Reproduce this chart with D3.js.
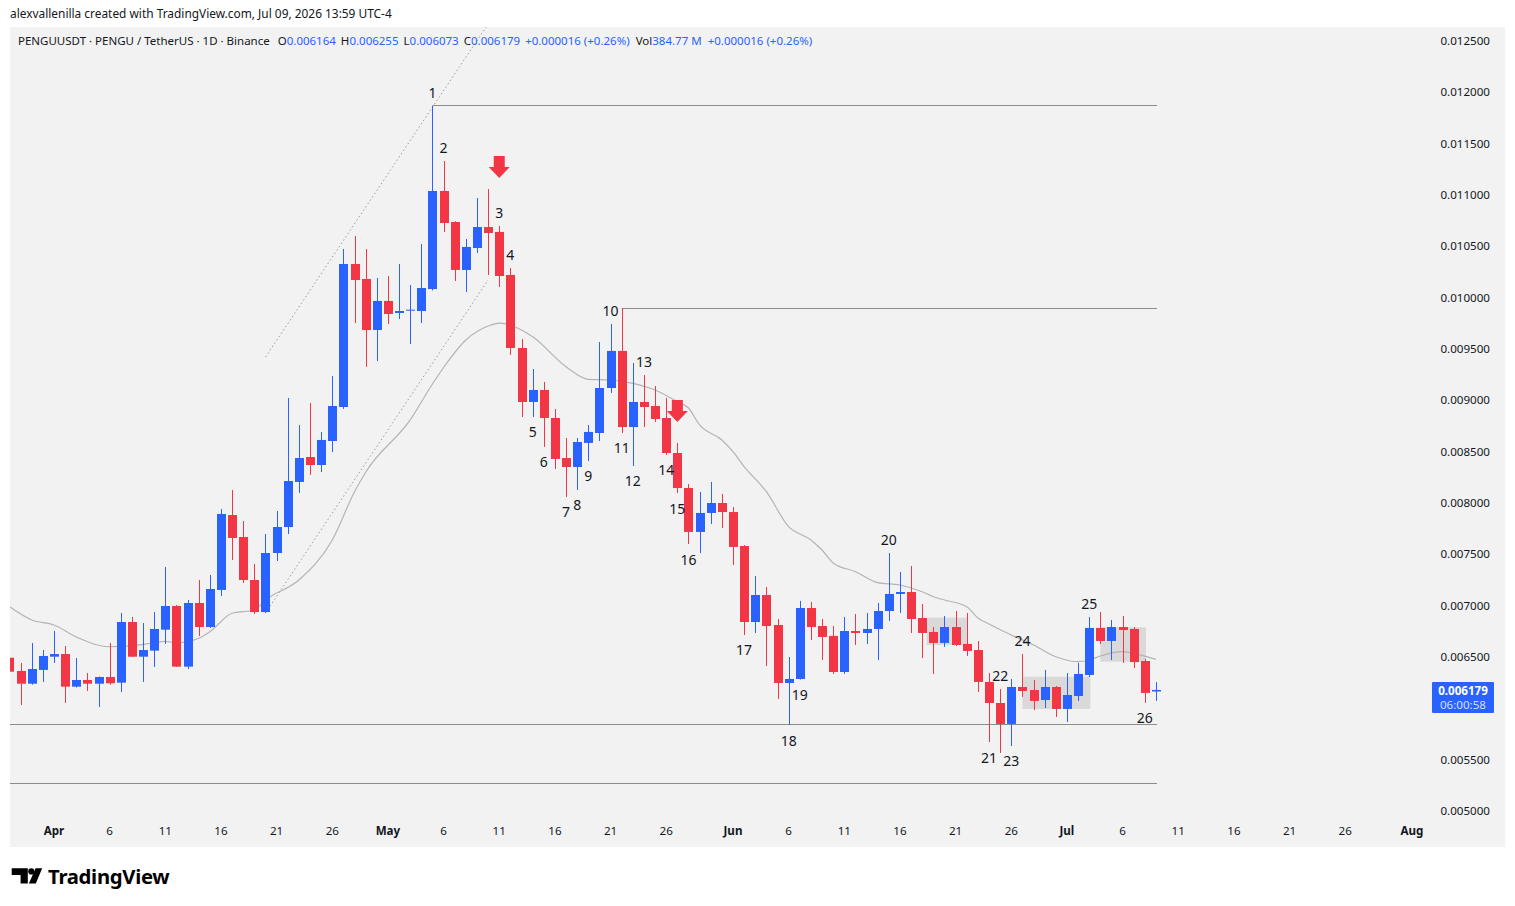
<!DOCTYPE html>
<html lang="en">
  <head>
    <meta charset="UTF-8" />
    <title>PENGUUSDT 1D - TradingView</title>
    <script src="https://d3js.org/d3.v7.min.js"></script>
    <style>
      body { margin: 0; background: #ffffff; }
      svg text { font-family: "Noto Sans", sans-serif; }
    </style>
  </head>
  <body>
    <div id="viz"></div>
    <script>
      // daily candles, first one on Mar 28 2026
      const firstDay = "2026-03-28";
      const opens = [
        0.006493, 0.006364, 0.006240, 0.006374, 0.006503, 0.006529, 0.006211, 0.006276, 0.006240, 0.006305,
        0.006250, 0.006841, 0.006503, 0.006562, 0.006766, 0.006997, 0.006406, 0.007026, 0.006792, 0.007153,
        0.007883, 0.007669, 0.007250, 0.006938, 0.007513, 0.007766, 0.008205, 0.008448, 0.008370, 0.008604,
        0.008935, 0.010328, 0.010182, 0.009685, 0.009968, 0.009851, 0.009873, 0.009870, 0.010084, 0.011039,
        0.010737, 0.010270, 0.010484, 0.010688, 0.010640, 0.010221, 0.009510, 0.008984, 0.009101, 0.008828,
        0.008438, 0.008351, 0.008585, 0.008682, 0.009120, 0.009481, 0.008740, 0.008984, 0.008945, 0.008828,
        0.008487, 0.008146, 0.007718, 0.007903, 0.008000, 0.007912, 0.007581, 0.006841, 0.007104, 0.006812,
        0.006247, 0.006286, 0.006977, 0.006802, 0.006705, 0.006354, 0.006753, 0.006734, 0.006773, 0.006948,
        0.007114, 0.007133, 0.006880, 0.006744, 0.006637, 0.006792, 0.006627, 0.006568, 0.006257, 0.006052,
        0.005848, 0.006208, 0.006179, 0.006081, 0.006208, 0.005994, 0.006120, 0.006325, 0.006783, 0.006656,
        0.006792, 0.006773, 0.006461, 0.006164
      ];
      const highs = [
        0.006656, 0.006442, 0.006637, 0.006568, 0.006753, 0.006607, 0.006490, 0.006344, 0.006310, 0.006637,
        0.006929, 0.006890, 0.006831, 0.006938, 0.007377, 0.007007, 0.007055, 0.007250, 0.007299, 0.007942,
        0.008127, 0.007825, 0.007406, 0.007698, 0.007922, 0.009023, 0.008760, 0.008974, 0.008692, 0.009237,
        0.010474, 0.010601, 0.010474, 0.010192, 0.010211, 0.010328, 0.010123, 0.010523, 0.011867, 0.011331,
        0.010745, 0.010571, 0.010971, 0.011058, 0.010698, 0.010289, 0.009597, 0.009305, 0.009179, 0.008916,
        0.008633, 0.008633, 0.008760, 0.009568, 0.009744, 0.009899, 0.009364, 0.009247, 0.009140, 0.009023,
        0.008585, 0.008185, 0.008107, 0.008205, 0.008088, 0.007961, 0.007590, 0.007289, 0.007182, 0.006870,
        0.006500, 0.007046, 0.007036, 0.006870, 0.006802, 0.006890, 0.006919, 0.006929, 0.007026, 0.007513,
        0.007328, 0.007386, 0.007016, 0.006792, 0.006899, 0.006948, 0.006929, 0.006656, 0.006344, 0.006188,
        0.006286, 0.006529, 0.006276, 0.006374, 0.006218, 0.006344, 0.006442, 0.006890, 0.006938, 0.006861,
        0.006899, 0.006792, 0.006481, 0.006255
      ];
      const lows = [
        0.006325, 0.006033, 0.006231, 0.006257, 0.006442, 0.006052, 0.006203, 0.006169, 0.006013, 0.006231,
        0.006159, 0.006500, 0.006257, 0.006403, 0.006627, 0.006403, 0.006383, 0.006705, 0.006782, 0.007094,
        0.007445, 0.007221, 0.006919, 0.006929, 0.007435, 0.007698, 0.008098, 0.008273, 0.008302, 0.008497,
        0.008916, 0.009753, 0.009325, 0.009383, 0.009744, 0.009792, 0.009549, 0.009753, 0.010070, 0.010640,
        0.010162, 0.010055, 0.010435, 0.010221, 0.010104, 0.009442, 0.008838, 0.008838, 0.008546, 0.008331,
        0.008059, 0.008127, 0.008409, 0.008604, 0.009072, 0.008682, 0.008360, 0.008740, 0.008789, 0.008468,
        0.008098, 0.007601, 0.007513, 0.007796, 0.007757, 0.007396, 0.006714, 0.006734, 0.006412, 0.006091,
        0.005840, 0.006280, 0.006666, 0.006471, 0.006335, 0.006335, 0.006617, 0.006627, 0.006471, 0.006851,
        0.006929, 0.006734, 0.006490, 0.006335, 0.006598, 0.006607, 0.006510, 0.006159, 0.005672, 0.005565,
        0.005633, 0.006111, 0.005984, 0.006003, 0.005916, 0.005867, 0.006072, 0.006305, 0.006627, 0.006471,
        0.006442, 0.006393, 0.006052, 0.006073
      ];
      const closes = [
        0.006357, 0.006240, 0.006383, 0.006510, 0.006529, 0.006211, 0.006276, 0.006240, 0.006305, 0.006244,
        0.006841, 0.006503, 0.006568, 0.006773, 0.006997, 0.006406, 0.007026, 0.006792, 0.007162, 0.007893,
        0.007659, 0.007250, 0.006938, 0.007513, 0.007766, 0.008214, 0.008438, 0.008370, 0.008614, 0.008945,
        0.010328, 0.010172, 0.009685, 0.009968, 0.009841, 0.009870, 0.009883, 0.010094, 0.011039, 0.010727,
        0.010270, 0.010494, 0.010688, 0.010630, 0.010211, 0.009510, 0.008984, 0.009101, 0.008828, 0.008429,
        0.008351, 0.008594, 0.008692, 0.009120, 0.009481, 0.008740, 0.008984, 0.008935, 0.008818, 0.008487,
        0.008146, 0.007718, 0.007903, 0.008000, 0.007912, 0.007572, 0.006841, 0.007104, 0.006802, 0.006247,
        0.006286, 0.006977, 0.006792, 0.006695, 0.006354, 0.006753, 0.006734, 0.006773, 0.006948, 0.007114,
        0.007133, 0.006870, 0.006734, 0.006637, 0.006792, 0.006617, 0.006559, 0.006257, 0.006052, 0.005848,
        0.006208, 0.006169, 0.006072, 0.006208, 0.005994, 0.006130, 0.006335, 0.006783, 0.006656, 0.006792,
        0.006763, 0.006451, 0.006150, 0.006179
      ];

      // moving average line (day index, value)
      const maDays = [0, 2, 4, 6, 9, 11, 13, 14, 15, 17, 18, 20, 22, 23, 26, 29, 31, 32, 36, 38, 39, 41, 43, 44,
        47, 50, 52, 54, 56, 58, 60, 61, 62, 64, 65, 66, 68, 70, 72, 73, 74, 76, 78, 80, 82, 83, 84, 86, 87, 88,
        90, 92, 94, 96, 97, 98, 100, 101, 103];
      const maValues = [0.006990, 0.006861, 0.006812, 0.006695, 0.006600, 0.006610, 0.006639, 0.006653, 0.006639,
        0.006682, 0.006746, 0.006926, 0.006958, 0.007055, 0.007250, 0.007640, 0.008110, 0.008300, 0.008809,
        0.009159, 0.009320, 0.009588, 0.009724, 0.009753, 0.009620, 0.009328, 0.009205, 0.009198, 0.009166,
        0.009101, 0.008987, 0.008925, 0.008760, 0.008614, 0.008500, 0.008354, 0.008110, 0.007769, 0.007640,
        0.007542, 0.007416, 0.007331, 0.007224, 0.007201, 0.007136, 0.007087, 0.007055, 0.006990, 0.006880,
        0.006822, 0.006714, 0.006617, 0.006503, 0.006454, 0.006471, 0.006510, 0.006552, 0.006536, 0.006477];

      // count labels
      const waveNames = ["1", "2", "3", "4", "5", "6", "7", "8", "9", "10", "11", "12", "13", "14", "15", "16",
        "17", "18", "19", "20", "21", "22", "23", "24", "25", "26"];
      const waveDays = [38, 39, 44, 45, 47, 48, 50, 51, 52, 54, 55, 56, 57, 59, 60, 61, 66, 70, 71, 79, 88, 89,
        90, 91, 97, 102];
      const wavePrices = [0.011994, 0.011458, 0.010825, 0.010416, 0.008692, 0.008399, 0.007912, 0.007981,
        0.008263, 0.009870, 0.008536, 0.008214, 0.009373, 0.008322, 0.007942, 0.007445, 0.006568, 0.005682,
        0.006130, 0.007640, 0.005516, 0.006315, 0.005487, 0.006656, 0.007016, 0.005906];

      // drawings
      const levelStarts = [38, 55, -0.05, -0.05];
      const levelPrices = [0.011880, 0.009899, 0.005845, 0.005273];
      const levelEnd = 103.1;
      const trendDays = [23, 43];
      const trendLower = [0.006929, 0.010172];
      const trendUpper = [0.009422, 0.012666];
      const arrowDays = [44, 60];
      const arrowPrices = [0.011166, 0.008789];
      const boxStarts = [82.4, 91, 98];
      const boxEnds = [86, 97.1, 102.1];
      const boxTops = [0.006883, 0.006308, 0.006789];
      const boxBottoms = [0.006617, 0.005994, 0.006454];

      const priceTicks = [0.0125, 0.012, 0.0115, 0.011, 0.0105, 0.01, 0.0095, 0.009, 0.0085, 0.008, 0.0075,
        0.007, 0.0065, 0.006, 0.0055, 0.005];
      const timeTicks = ["2026-04-01", "2026-04-06", "2026-04-11", "2026-04-16", "2026-04-21", "2026-04-26",
        "2026-05-01", "2026-05-06", "2026-05-11", "2026-05-16", "2026-05-21", "2026-05-26",
        "2026-06-01", "2026-06-06", "2026-06-11", "2026-06-16", "2026-06-21", "2026-06-26",
        "2026-07-01", "2026-07-06", "2026-07-11", "2026-07-16", "2026-07-21", "2026-07-26", "2026-08-01"];

      const width = 1515, height = 906;
      const upColor = "#2962ff", downColor = "#f23645", ink = "#131722";

      const parse = d3.utcParse("%Y-%m-%d");
      const day0 = parse(firstDay);

      const x = d3.scaleUtc()
        .domain([parse("2026-04-01"), parse("2026-08-01")])
        .range([54, 1412]);
      const y = d3.scaleLinear().domain([0.005, 0.0125]).range([811, 41]);
      const xAt = i => x(new Date(+day0 + i * 864e5));

      const svg = d3.select("#viz").append("svg")
        .attr("width", width)
        .attr("height", height)
        .style("display", "block");

      // header line
      svg.append("text")
        .attr("x", 10).attr("y", 18)
        .attr("font-size", 11.9).attr("fill", ink)
        .text("alexvallenilla created with TradingView.com, Jul 09, 2026 13:59 UTC-4");

      // chart panel
      svg.append("rect")
        .attr("x", 10).attr("y", 27)
        .attr("width", 1495).attr("height", 820)
        .attr("fill", "#f2f2f2");

      svg.append("clipPath").attr("id", "plotClip")
        .append("rect").attr("x", 10).attr("y", 27).attr("width", 1410).attr("height", 788);

      const plot = svg.append("g").attr("clip-path", "url(#plotClip)");

      // shaded boxes
      plot.selectAll("rect.box")
        .data(boxStarts.map((s, k) => ({ s, e: boxEnds[k], t: boxTops[k], b: boxBottoms[k] })))
        .join("rect")
        .attr("class", "box")
        .attr("x", d => xAt(d.s))
        .attr("y", d => y(d.t))
        .attr("width", d => xAt(d.e) - xAt(d.s))
        .attr("height", d => y(d.b) - y(d.t))
        .attr("fill", "#d9d9d9");

      // horizontal levels
      plot.selectAll("line.level")
        .data(levelPrices.map((p, k) => ({ p, s: levelStarts[k] })))
        .join("line")
        .attr("x1", d => xAt(d.s)).attr("x2", xAt(levelEnd))
        .attr("y1", d => Math.round(y(d.p)) + 0.5).attr("y2", d => Math.round(y(d.p)) + 0.5)
        .attr("stroke", "#8c8c8c").attr("stroke-width", 1);

      // trend channel (dotted)
      [trendLower, trendUpper].forEach(vals => {
        plot.append("line")
          .attr("x1", xAt(trendDays[0])).attr("y1", y(vals[0]))
          .attr("x2", xAt(trendDays[1])).attr("y2", y(vals[1]))
          .attr("stroke", "#9a9a9a").attr("stroke-width", 1)
          .attr("stroke-dasharray", "1.5,2.5");
      });

      // moving average
      const ma = d3.line()
        .x(d => xAt(d[0]))
        .y(d => y(d[1]))
        .curve(d3.curveMonotoneX);
      plot.append("path")
        .datum(maDays.map((dd, k) => [dd, maValues[k]]))
        .attr("d", ma)
        .attr("fill", "none")
        .attr("stroke", "#b4b4b4")
        .attr("stroke-width", 1.2);

      // candles
      const candles = opens.map((o, i) => ({ i, o, h: highs[i], l: lows[i], c: closes[i] }));
      const cg = plot.selectAll("g.candle").data(candles).join("g").attr("class", "candle");
      cg.append("line")
        .attr("x1", d => Math.round(xAt(d.i)) + 0.5)
        .attr("x2", d => Math.round(xAt(d.i)) + 0.5)
        .attr("y1", d => y(d.h))
        .attr("y2", d => y(d.l))
        .attr("stroke", d => (d.c >= d.o ? upColor : downColor))
        .attr("stroke-width", 1);
      cg.append("rect")
        .attr("x", d => Math.round(xAt(d.i)) - 4)
        .attr("width", 9)
        .attr("y", d => y(Math.max(d.o, d.c)))
        .attr("height", d => Math.max(1, Math.abs(y(d.o) - y(d.c))))
        .attr("fill", d => (d.c >= d.o ? upColor : downColor));

      // red arrows
      plot.selectAll("path.arrow")
        .data(arrowDays.map((dd, k) => ({ dd, p: arrowPrices[k] })))
        .join("path")
        .attr("transform", d => `translate(${xAt(d.dd)},${y(d.p)})`)
        .attr("d", "M-5.5,-22 H5.5 V-11 H10.5 L0,0 L-10.5,-11 H-5.5 Z")
        .attr("fill", downColor);

      // count labels
      plot.selectAll("text.wave")
        .data(waveNames.map((n, k) => ({ n, dd: waveDays[k], p: wavePrices[k] })))
        .join("text")
        .attr("x", d => xAt(d.dd))
        .attr("y", d => y(d.p))
        .attr("dy", "0.35em")
        .attr("text-anchor", "middle")
        .attr("font-size", 14)
        .attr("fill", ink)
        .text(d => d.n);

      // legend
      const last = candles[candles.length - 1];
      const fmt = d3.format(".6f");
      const legend = svg.append("text")
        .attr("x", 18).attr("y", 45)
        .attr("font-size", 11.5).attr("fill", ink);
      legend.append("tspan").text("PENGUUSDT · PENGU / TetherUS · 1D · Binance");
      [["O", last.o], ["H", last.h], ["L", last.l], ["C", last.c]].forEach((kv, k) => {
        legend.append("tspan").attr("dx", k === 0 ? 8 : 5).text(kv[0]);
        legend.append("tspan").attr("fill", upColor).text(fmt(kv[1]));
      });
      legend.append("tspan").attr("dx", 5).attr("fill", upColor).text("+0.000016 (+0.26%)");
      legend.append("tspan").attr("dx", 6).text("Vol");
      legend.append("tspan").attr("fill", upColor).text("384.77 M");
      legend.append("tspan").attr("dx", 6).attr("fill", upColor).text("+0.000016 (+0.26%)");

      // price axis
      const lastY = y(last.c);
      svg.append("g")
        .selectAll("text")
        .data(priceTicks.filter(p => Math.abs(y(p) - lastY) > 20))
        .join("text")
        .attr("x", 1490)
        .attr("y", d => y(d))
        .attr("dy", "0.35em")
        .attr("text-anchor", "end")
        .attr("font-size", 11.6)
        .attr("fill", ink)
        .text(d => fmt(d));

      // last price tag
      svg.append("rect")
        .attr("x", 1432).attr("y", lastY - 8)
        .attr("width", 62).attr("height", 31)
        .attr("rx", 1)
        .attr("fill", upColor);
      svg.append("text")
        .attr("x", 1463).attr("y", lastY + 0.5)
        .attr("dy", "0.35em")
        .attr("text-anchor", "middle")
        .attr("font-size", 11.6).attr("font-weight", 700)
        .attr("fill", "#ffffff")
        .text(fmt(last.c));
      svg.append("text")
        .attr("x", 1463).attr("y", lastY + 14.5)
        .attr("dy", "0.35em")
        .attr("text-anchor", "middle")
        .attr("font-size", 11.6)
        .attr("fill", "rgba(255,255,255,0.8)")
        .text("06:00:58");

      // time axis
      const monthFmt = d3.utcFormat("%b"), dayFmt = d3.utcFormat("%-d");
      svg.append("g")
        .selectAll("text")
        .data(timeTicks.map(parse))
        .join("text")
        .attr("x", d => x(d))
        .attr("y", 831)
        .attr("dy", "0.35em")
        .attr("text-anchor", "middle")
        .attr("font-size", 11.6)
        .attr("font-weight", d => (d.getUTCDate() === 1 ? 700 : 400))
        .attr("fill", ink)
        .text(d => (d.getUTCDate() === 1 ? monthFmt(d) : dayFmt(d)));

      // TradingView logo
      const logo = svg.append("g").attr("fill", "#000000");
      logo.append("path").attr("d", "M11.7,868.3 H27.8 V883.6 H20.6 V875 H11.7 Z");
      logo.append("circle").attr("cx", 31.3).attr("cy", 871.4).attr("r", 3.1);
      logo.append("path").attr("d", "M35.6,868.3 H42.2 L35.8,883.6 H28.9 Z");
      svg.append("text")
        .attr("x", 48).attr("y", 884)
        .attr("font-family", "Inter, sans-serif")
        .attr("font-size", 20.3).attr("font-weight", 700)
        .attr("letter-spacing", -0.3)
        .attr("fill", "#000000")
        .text("TradingView");
    </script>
  </body>
</html>
